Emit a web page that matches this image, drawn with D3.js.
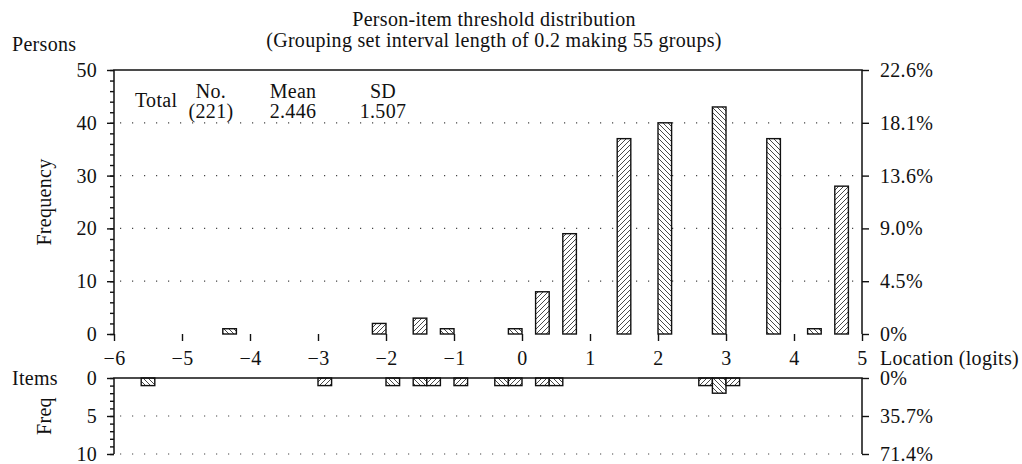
<!DOCTYPE html>
<html>
<head>
<meta charset="utf-8">
<script src="https://cdn.jsdelivr.net/npm/d3@7"></script>
<style>
  html, body { margin: 0; padding: 0; background: #fff; }
  svg { display: block; }
  text { font-family: "Liberation Serif", "Times New Roman", serif; fill: #111; }
</style>
</head>
<body>
<svg id="chart" width="1022" height="464"></svg>
<script>
// Group midpoints (logits), grouping interval 0.2
const personLocations = [-4.3, -2.1, -1.5, -1.1, -0.1, 0.3, 0.7, 1.5, 2.1, 2.9, 3.7, 4.3, 4.7];
const personCounts    = [1, 2, 3, 1, 1, 8, 19, 37, 40, 43, 37, 1, 28];
const itemLocations   = [-5.5, -2.9, -1.9, -1.5, -1.3, -0.9, -0.3, -0.1, 0.3, 0.5, 2.7, 2.9, 3.1];
const itemCounts      = [1, 1, 1, 1, 1, 1, 1, 1, 1, 1, 1, 2, 1];

// Hatch direction for each bar (f = forward "/", b = back "\")
const personHatch = ["b", "f", "f", "b", "b", "f", "f", "f", "b", "b", "b", "b", "f"];
const itemHatch   = ["b", "f", "b", "b", "f", "f", "b", "f", "f", "b", "f", "b", "f"];

const groupWidth = 0.2;
const xTicks = [-6, -5, -4, -3, -2, -1, 0, 1, 2, 3, 4, 5];
const personTicks = [0, 10, 20, 30, 40, 50];
const personPctLabels = ["0%", "4.5%", "9.0%", "13.6%", "18.1%", "22.6%"];
const itemTicks = [0, 5, 10];
const itemPctLabels = ["0%", "35.7%", "71.4%"];

const summaryHeaders = ["No.", "Mean", "SD"];
const summaryValues  = ["(221)", "2.446", "1.507"];

const svg = d3.select("#chart");
const FS = 20;
const LS = "0.3px";

const x  = d3.scaleLinear().domain([-6, 5]).range([114, 862]);
const yP = d3.scaleLinear().domain([0, 50]).range([334, 70]);
const yI = d3.scaleLinear().domain([0, 10]).range([378, 454]);

// hatch patterns
const defs = svg.append("defs");
function hatch(id, d) {
  const p = defs.append("pattern").attr("id", id)
    .attr("patternUnits", "userSpaceOnUse").attr("width", 5).attr("height", 5);
  p.append("rect").attr("width", 5).attr("height", 5).attr("fill", "#fff");
  p.append("path").attr("d", d).attr("stroke", "#333").attr("stroke-width", 0.9).attr("fill", "none");
}
hatch("hf", "M0,5 L5,0 M-1,1 L1,-1 M4,6 L6,4");
hatch("hb", "M0,0 L5,5 M-1,4 L1,6 M4,-1 L6,1");

const [xl, xr] = x.range();

// dotted gridlines
function dotted(y) {
  svg.append("line").attr("x1", xl + 6).attr("x2", xr).attr("y1", y).attr("y2", y)
    .attr("stroke", "#444").attr("stroke-width", 1.2).attr("stroke-dasharray", "1.2,10.8");
}
personTicks.slice(1, -1).forEach(v => dotted(yP(v)));
itemTicks.slice(1).forEach(v => dotted(yI(v)));

// person bars
const pData = personLocations.map((m, i) => ({ m, v: personCounts[i], h: personHatch[i] }));
svg.append("g").selectAll("rect").data(pData).join("rect")
  .attr("x", d => x(d.m - groupWidth / 2))
  .attr("width", d => x(d.m + groupWidth / 2) - x(d.m - groupWidth / 2))
  .attr("y", d => yP(d.v))
  .attr("height", d => yP(0) - yP(d.v))
  .attr("fill", d => `url(#h${d.h})`)
  .attr("stroke", "#111").attr("stroke-width", 1.4);

// item bars (drawn downward)
const iData = itemLocations.map((m, i) => ({ m, v: itemCounts[i], h: itemHatch[i] }));
svg.append("g").selectAll("rect").data(iData).join("rect")
  .attr("x", d => x(d.m - groupWidth / 2))
  .attr("width", d => x(d.m + groupWidth / 2) - x(d.m - groupWidth / 2))
  .attr("y", yI(0))
  .attr("height", d => yI(d.v) - yI(0))
  .attr("fill", d => `url(#h${d.h})`)
  .attr("stroke", "#111").attr("stroke-width", 1.4);

// frame lines
const frame = svg.append("g").attr("stroke", "#111").attr("stroke-width", 1.5).attr("fill", "none");
frame.append("path").attr("d", `M${xl},${yP(0)} V${yP(50)} H${xr} V${yP(0)}`);
frame.append("path").attr("d", `M${xl},${yI(10)} V${yI(0)} H${xr} V${yI(10)}`);

function styleAxis(g) {
  g.select(".domain").remove();
  g.selectAll("line").attr("stroke", "#111").attr("stroke-width", 1.4);
  g.selectAll("text").attr("font-size", FS).attr("letter-spacing", LS)
    .attr("font-family", "Liberation Serif, serif").attr("fill", "#111");
}

// left axes: minor then major ticks
svg.append("g").attr("transform", `translate(${xl},0)`)
  .call(d3.axisLeft(yP).tickValues(d3.range(0, 51, 2)).tickSize(4).tickFormat(""))
  .call(styleAxis);
svg.append("g").attr("transform", `translate(${xl},0)`)
  .call(d3.axisLeft(yP).tickValues(personTicks).tickSize(7).tickPadding(10))
  .call(styleAxis);
svg.append("g").attr("transform", `translate(${xl},0)`)
  .call(d3.axisLeft(yI).tickValues(d3.range(0, 11, 1)).tickSize(4).tickFormat(""))
  .call(styleAxis);
svg.append("g").attr("transform", `translate(${xl},0)`)
  .call(d3.axisLeft(yI).tickValues(itemTicks).tickSize(7).tickPadding(10))
  .call(styleAxis);

// right percentage axes
svg.append("g").attr("transform", `translate(${xr},0)`)
  .call(d3.axisRight(yP).tickValues(personTicks).tickSize(7).tickPadding(11)
    .tickFormat((d, i) => personPctLabels[i]))
  .call(styleAxis);
svg.append("g").attr("transform", `translate(${xr},0)`)
  .call(d3.axisRight(yI).tickValues(itemTicks).tickSize(7).tickPadding(11)
    .tickFormat((d, i) => itemPctLabels[i]))
  .call(styleAxis);

// location axis
svg.append("g").attr("transform", `translate(0,${yP(0)})`)
  .call(d3.axisBottom(x).tickValues(xTicks).tickSize(7).tickPadding(10).tickFormat(d3.format("d")))
  .call(styleAxis);

const txt = (s, tx, ty, anchor = "start") =>
  svg.append("text").attr("x", tx).attr("y", ty).attr("text-anchor", anchor)
    .attr("font-size", FS).attr("letter-spacing", LS).text(s);

txt("Location (logits)", 880, 365);

// titles
txt("Person-item threshold distribution", 494, 26, "middle");
txt("(Grouping set interval length of 0.2 making 55 groups)", 494, 47, "middle");

// axis names
txt("Persons", 12, 51);
txt("Items", 12, 385);
svg.append("text").attr("transform", `translate(51,${(yP(0) + yP(50)) / 2}) rotate(-90)`)
  .attr("text-anchor", "middle").attr("font-size", FS).attr("letter-spacing", LS).text("Frequency");
svg.append("text").attr("transform", `translate(51,${(yI(0) + yI(10)) / 2}) rotate(-90)`)
  .attr("text-anchor", "middle").attr("font-size", FS).attr("letter-spacing", LS).text("Freq");

// summary block
txt("Total", 135, 107);
const colX = [211, 293, 383];
summaryHeaders.forEach((s, i) => txt(s, colX[i], 98, "middle"));
summaryValues.forEach((s, i) => txt(s, colX[i], 118, "middle"));
</script>
</body>
</html>
